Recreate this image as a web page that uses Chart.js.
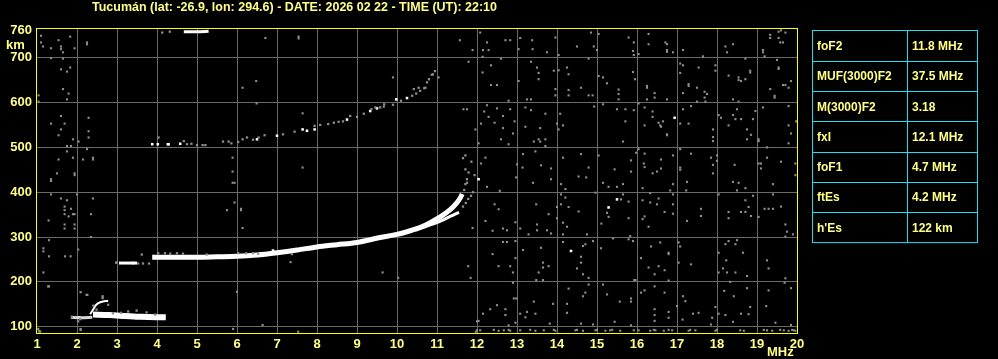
<!DOCTYPE html>
<html>
<head>
<meta charset="utf-8">
<script src="https://cdn.jsdelivr.net/npm/chart.js@4/dist/chart.umd.min.js"></script>
<style>
  html, body { margin: 0; padding: 0; background: #000; }
  #wrap { width: 998px; height: 359px; }
</style>
</head>
<body>
<div id="wrap"><canvas id="ionogram" width="998" height="359"></canvas></div>
<script>
'use strict'

const title = 'Tucumán (lat: -26.9, lon: 294.6) - DATE: 2026 02 22 - TIME (UT): 22:10'
const yTicks = [100, 200, 300, 400, 500, 600, 700, 760]
const xTicks = [1, 2, 3, 4, 5, 6, 7, 8, 9, 10, 11, 12, 13, 14, 15, 16, 17, 18, 19, 20]
const paramNames = ['foF2', 'MUF(3000)F2', 'M(3000)F2', 'fxI', 'foF1', 'ftEs', "h'Es"]
const paramValues = ['11.8 MHz', '37.5 MHz', '3.18', '12.1 MHz', '4.7 MHz', '4.2 MHz', '122 km']

// F layer trace, ordinary (MHz, km)
const fTraceO = [[3.88, 255], [4.5, 255], [5.0, 255], [5.5, 256], [6.0, 257], [6.5, 260], [7.0, 265],
  [7.5, 271], [8.0, 278], [8.5, 283], [9.0, 288], [9.58, 299], [10.0, 306], [10.33, 314], [10.6, 322],
  [10.83, 332], [11.1, 346], [11.33, 361], [11.5, 377], [11.58, 387], [11.63, 396]]
// F layer trace, extraordinary
const fTraceX = [[10.6, 320], [10.83, 327], [11.1, 336], [11.33, 346], [11.55, 355]]
// low F start
const fStart = [[3.05, 242], [3.25, 242], [3.5, 242]]
// sporadic E
const esMain = [[2.4, 127], [2.8, 126], [3.2, 124], [3.6, 122], [4.0, 121], [4.22, 121]]
const esLow = [[1.85, 121], [2.1, 120], [2.38, 121]]
const esHook = [[2.33, 128], [2.4, 138], [2.48, 149], [2.6, 155], [2.78, 158]]
// echo near the top of the frame
const topEcho = [[4.67, 758], [5.0, 758], [5.29, 759]]

// second hop F (white echoes)
const hop2White = [[3.88, 507], [4.02, 507], [4.27, 507], [4.29, 507], [4.58, 508], [6.5, 518], [7.0, 526],
  [7.64, 540], [7.75, 537], [7.94, 540], [8.75, 562], [9.33, 581], [9.5, 587], [9.98, 607], [10.25, 610],
  [15.5, 384], [15.29, 366], [14.35, 269], [16.94, 566], [12.04, 429], [3.4, 242],
  [6.9, 270], [2.05, 121]]
// second hop F (gray echoes)
const hop2Gray = [[4.04, 522], [4.67, 514], [4.75, 507], [4.86, 508], [5.0, 505], [5.14, 505], [5.21, 505],
  [5.65, 513], [5.79, 513], [5.86, 509], [6.03, 512], [6.14, 518], [6.25, 522], [6.4, 517], [6.54, 522],
  [6.69, 527], [7.15, 529], [7.44, 535], [7.94, 548], [8.08, 550], [8.28, 552], [8.42, 555], [8.54, 557],
  [8.65, 558], [8.83, 570], [9.0, 568], [9.17, 575], [9.36, 585], [9.46, 589], [9.58, 589], [9.67, 591],
  [9.68, 596], [9.9, 595], [10.1, 604], [10.38, 615], [10.48, 620], [10.42, 630], [10.54, 633],
  [10.58, 626], [10.68, 632], [10.71, 633], [10.75, 645], [10.8, 652], [10.87, 662], [10.95, 670]]

// F trace edges and Es scatter
const traceGray = [[2.98, 243], [3.53, 241], [3.65, 241], [3.8, 241], [3.62, 261], [4.03, 264], [4.2, 264],
  [4.33, 263], [4.5, 264], [4.65, 263], [5.24, 261], [6.03, 264], [6.23, 264], [6.4, 264], [6.53, 263],
  [7.37, 262], [11.65, 368], [11.72, 376], [11.78, 385], [11.85, 392], [11.9, 400], [11.68, 405],
  [11.71, 418], [11.75, 421], [11.75, 429], [11.94, 438], [11.79, 444], [11.71, 451], [11.86, 468],
  [11.65, 476], [11.71, 482], [1.28, 190], [2.09, 177], [2.24, 171], [2.64, 168], [2.64, 164], [2.78, 149],
  [2.41, 147], [2.49, 138], [3.49, 136], [3.74, 132], [3.28, 134], [1.87, 122], [2.08, 117], [2.03, 112],
  [2.09, 93], [1.03, 95], [1.05, 90], [2.9, 130], [3.1, 131], [3.95, 127], [4.13, 756], [4.32, 758]]

// background noise
const noise = [
  [12.08, 756], [12.25, 734], [12.15, 717], [12.29, 717], [12.71, 739], [12.83, 739], [13.38, 739],
  [13.08, 744], [13.04, 719], [13.39, 719], [13.75, 712], [13.96, 745], [14.04, 706], [14.5, 725],
  [14.85, 756], [14.92, 725], [15.04, 753], [15.0, 717], [15.79, 745], [15.92, 734], [15.9, 715],
  [15.92, 706], [12.14, 702], [12.6, 698],
  [12.35, 683], [12.14, 667], [12.35, 639], [12.5, 639], [12.79, 604], [13.04, 648], [13.35, 691],
  [13.5, 678], [13.54, 666], [13.54, 652], [13.92, 671], [14.04, 672], [14.25, 678], [14.29, 663],
  [13.96, 630], [13.96, 616], [14.29, 628], [14.29, 616], [14.6, 633], [14.79, 616], [14.89, 616],
  [14.79, 698], [15.04, 659], [15.15, 656], [15.25, 643], [15.54, 629], [15.54, 619], [15.54, 607],
  [15.9, 668], [15.95, 652], [13.25, 607], [13.35, 607],
  [12.25, 594], [12.5, 587], [12.18, 580], [12.29, 568], [12.44, 555], [12.65, 570], [12.65, 543],
  [12.83, 585], [12.94, 558], [12.1, 553], [12.9, 531], [12.6, 518], [12.79, 507], [12.04, 509],
  [13.21, 589], [13.35, 583], [13.21, 546], [13.58, 543], [13.71, 575], [13.42, 513], [13.54, 518],
  [13.71, 518], [13.58, 513], [13.71, 503], [14.08, 575], [14.15, 549], [14.04, 540], [14.0, 553],
  [14.93, 591], [15.15, 596], [15.5, 585], [15.71, 585], [15.71, 558], [15.65, 513], [15.92, 583],
  [12.21, 477], [12.1, 464], [13.0, 462], [12.98, 433], [13.15, 485], [13.46, 491], [13.14, 455],
  [13.6, 460], [13.85, 453], [13.4, 421], [14.15, 477], [14.6, 485], [14.79, 455], [14.54, 435],
  [14.73, 433], [14.1, 418], [14.21, 407], [15.04, 482], [15.44, 451], [15.85, 471], [15.85, 446],
  [15.15, 421], [15.29, 412], [15.5, 412], [15.65, 418], [15.98, 488], [12.57, 403], [12.25, 412],
  [13.85, 429],
  [12.44, 373], [12.54, 362], [12.21, 336], [12.39, 314], [12.65, 319], [12.75, 315], [12.96, 333],
  [13.48, 373], [13.08, 319], [13.5, 328], [13.5, 315], [13.75, 315], [13.79, 351], [13.29, 306],
  [13.85, 308], [14.0, 367], [14.1, 373], [14.21, 388], [14.1, 395], [14.29, 367], [14.54, 357],
  [14.15, 332], [14.25, 323], [14.0, 342], [14.15, 306], [14.75, 306], [14.96, 399], [15.11, 330],
  [15.25, 354], [15.29, 345], [15.6, 384], [15.65, 395], [15.79, 379], [15.79, 342], [15.83, 302],
  [12.65, 289], [12.75, 289], [12.96, 291], [12.39, 262], [12.54, 235], [12.83, 235], [12.96, 253],
  [12.9, 221], [13.15, 271], [13.6, 276], [13.65, 243], [13.65, 232], [13.79, 235], [13.54, 221],
  [13.48, 204], [13.65, 204], [14.15, 289], [14.6, 256], [14.65, 280], [14.71, 284], [14.6, 243],
  [14.5, 230], [14.65, 217], [14.9, 291], [14.79, 209], [15.1, 275], [15.4, 297], [15.79, 295],
  [15.9, 291], [15.96, 204],
  [12.9, 198], [12.92, 163], [12.98, 163], [12.5, 148], [12.33, 139], [12.15, 129], [12.71, 139],
  [12.71, 126], [12.96, 109], [12.79, 103], [12.04, 113], [13.08, 129], [13.25, 133], [13.21, 121],
  [13.42, 156], [13.46, 129], [13.9, 151], [13.82, 107], [14.25, 151], [14.25, 131], [14.29, 185],
  [14.65, 168], [14.71, 176], [14.79, 194], [14.6, 107], [14.9, 105], [15.15, 194], [15.25, 172],
  [15.57, 156], [15.85, 163], [15.85, 156], [15.44, 111], [15.85, 103], [15.93, 204],
  [12.08, 92], [12.42, 93], [12.54, 91], [12.67, 92], [12.79, 93], [12.83, 91], [13.08, 92], [13.33, 93],
  [13.46, 91], [13.67, 92], [13.92, 93], [13.96, 91], [14.46, 92], [14.5, 93], [14.65, 91], [14.96, 92],
  [15.0, 93], [15.21, 91], [15.33, 92], [15.38, 93], [15.58, 91], [15.92, 92],
  [16.29, 753], [16.29, 730], [16.71, 734], [16.75, 730], [16.75, 717], [16.75, 713], [16.9, 712],
  [17.15, 717], [17.65, 703], [18.21, 725], [18.4, 730], [18.25, 712], [19.33, 751], [19.33, 744],
  [19.54, 758], [19.6, 761], [19.71, 756], [19.54, 744], [19.58, 734], [19.65, 734], [19.15, 717],
  [19.15, 712], [19.19, 703], [16.04, 708],
  [17.08, 687], [17.15, 683], [17.54, 678], [17.96, 683], [17.96, 671], [17.08, 666], [17.29, 641],
  [17.29, 637], [17.5, 633], [17.15, 621], [17.69, 624], [17.75, 619], [17.69, 611], [17.71, 602],
  [17.5, 602], [18.29, 660], [18.54, 656], [18.54, 650], [18.6, 648], [18.71, 652], [18.83, 667],
  [18.83, 671], [18.4, 607], [18.54, 602], [18.71, 698], [19.5, 695], [19.54, 678], [19.54, 675],
  [19.85, 648], [19.79, 633], [19.65, 639], [19.71, 639], [19.33, 630], [19.44, 615], [19.44, 611],
  [16.25, 637], [16.25, 633], [16.44, 621], [16.44, 611], [16.25, 607], [16.75, 607],
  [16.04, 598], [16.19, 589], [16.39, 580], [16.39, 568], [16.19, 549], [16.54, 555], [16.6, 546],
  [16.65, 558], [16.58, 549], [16.75, 529], [16.75, 527], [17.15, 585], [17.08, 553], [17.29, 553],
  [17.35, 592], [17.9, 540], [17.9, 523], [17.9, 514], [18.04, 572], [18.1, 566], [18.29, 549],
  [18.4, 572], [18.5, 585], [18.46, 563], [18.6, 563], [18.75, 540], [18.85, 528], [18.75, 518],
  [18.96, 581], [18.9, 563], [19.04, 518], [19.04, 514], [19.15, 589], [19.79, 592], [19.79, 549],
  [19.85, 531], [19.79, 509], [19.98, 558],
  [16.04, 496], [16.19, 486], [16.6, 473], [16.9, 482], [16.17, 464], [16.19, 456], [16.39, 442],
  [16.5, 446], [16.6, 453], [16.14, 409], [16.9, 418], [16.83, 404], [17.08, 496], [17.35, 486],
  [17.08, 455], [17.08, 450], [17.25, 423], [17.23, 404], [17.85, 477], [17.9, 461], [18.0, 482],
  [17.9, 442], [18.0, 470], [18.44, 461], [18.4, 423], [18.54, 421], [18.71, 409], [18.5, 404],
  [19.25, 500], [19.25, 477], [19.1, 464], [19.1, 453], [19.04, 464], [19.6, 468], [19.4, 418],
  [19.96, 464], [19.96, 438],
  [16.33, 398], [16.14, 382], [16.33, 377], [16.54, 386], [16.5, 373], [16.9, 395], [16.9, 373],
  [16.9, 352], [16.69, 356], [16.19, 346], [16.14, 340], [16.29, 323], [17.25, 336], [17.6, 363],
  [17.6, 347], [18.04, 395], [18.29, 356], [18.29, 342], [18.6, 356], [18.71, 356], [18.71, 382],
  [18.79, 367], [18.85, 347], [18.9, 392], [19.04, 345], [19.4, 395], [19.19, 363], [19.29, 363],
  [19.4, 363], [19.6, 368], [19.71, 328], [19.75, 312], [19.71, 301], [19.9, 306],
  [16.58, 288], [16.35, 279], [16.79, 265], [16.79, 262], [16.1, 253], [16.29, 232], [16.54, 235],
  [16.44, 217], [16.69, 226], [16.79, 203], [17.04, 288], [17.08, 279], [17.04, 243], [17.35, 239],
  [18.04, 265], [18.21, 284], [18.29, 291], [18.46, 284], [18.5, 293], [18.65, 265], [18.23, 248],
  [18.15, 230], [18.04, 221], [18.25, 221], [18.46, 221], [18.75, 213], [19.25, 248], [19.29, 230],
  [19.71, 208], [19.69, 198],
  [16.1, 176], [16.19, 181], [16.44, 190], [16.69, 176], [16.44, 139], [16.44, 126], [16.44, 113],
  [16.79, 133], [16.79, 120], [17.0, 146], [17.15, 168], [17.21, 157], [17.14, 116], [17.4, 129],
  [17.54, 131], [17.88, 120], [17.96, 144], [17.85, 105], [18.04, 129], [18.21, 126], [18.18, 180],
  [18.42, 168], [18.4, 111], [18.6, 129], [18.75, 186], [18.83, 144], [18.79, 128], [19.29, 181],
  [19.23, 146], [19.85, 186], [19.46, 109], [19.85, 104], [18.33, 200],
  [16.04, 92], [16.33, 91], [16.42, 93], [16.46, 92], [16.67, 91], [16.79, 93], [16.88, 92], [17.29, 91],
  [17.33, 93], [17.46, 92], [17.96, 91], [18.0, 93], [18.58, 92], [18.67, 91], [19.17, 93], [19.25, 92],
  [19.38, 91], [19.58, 93], [19.67, 92], [19.79, 91], [19.88, 93], [19.92, 92], [19.96, 91],
  [1.1, 749], [1.1, 734], [1.15, 725], [1.35, 721], [1.54, 739], [1.6, 725], [1.6, 719], [1.65, 712],
  [1.83, 747], [1.94, 721], [1.35, 699], [1.65, 698], [2.25, 734], [2.25, 730], [1.6, 674], [1.75, 669],
  [1.83, 678], [1.65, 630], [1.79, 620], [1.75, 607], [1.04, 616], [1.04, 602],
  [6.71, 744], [7.54, 747], [7.54, 743], [11.57, 739], [11.89, 717], [11.79, 691], [10.9, 663],
  [11.04, 656], [9.9, 656], [6.48, 648], [6.14, 633], [6.49, 598], [11.66, 585], [11.75, 585],
  [11.96, 540], [1.35, 553], [1.6, 570], [1.69, 553], [1.6, 540], [1.54, 527], [1.9, 518], [1.75, 503],
  [1.85, 503], [1.75, 491], [2.04, 513], [2.29, 566], [2.29, 536], [2.29, 522], [2.25, 496], [1.54, 473],
  [1.9, 477], [2.15, 473], [2.4, 477], [2.4, 473], [1.5, 442], [1.94, 442], [1.94, 438], [1.35, 429],
  [1.35, 425], [1.35, 395], [1.6, 386], [1.75, 382], [2.0, 395], [2.4, 386], [1.69, 368], [1.69, 360],
  [1.85, 363], [1.69, 351], [1.9, 351], [1.94, 351], [1.79, 346], [1.29, 337], [1.69, 328], [1.69, 319],
  [1.94, 328], [1.94, 319], [2.35, 351], [7.64, 576], [7.64, 455], [5.89, 477], [5.89, 446], [5.89, 421],
  [5.94, 421], [5.94, 377], [5.75, 360], [6.1, 363], [6.1, 360], [6.14, 320], [11.89, 320],
  [1.3, 293], [1.16, 275], [1.16, 268], [1.3, 257], [1.16, 221], [1.3, 190], [1.84, 257], [1.7, 257],
  [2.03, 272], [2.26, 171], [2.99, 243], [1.06, 90], [2.35, 300], [7.34, 244], [9.64, 221], [10.03, 209],
  [11.78, 235], [11.84, 209], [6.0, 178], [5.9, 95], [6.64, 104], [7.53, 89], [12.0, 112], [11.97, 89],
  [12.0, 92], [1.08, 89], [2.09, 95]
]

const toXY = (arr) => arr.map((p) => ({ x: p[0], y: p[1] }))

const YELLOW = '#ffff00'
const TEXT = '#ffff88'
const CYAN = '#20e0f0'
const GRID = '#6a6a6a'
const GRAY = '#8e8e8e'

const lineDs = (arr, width, color) => ({
  type: 'line',
  data: toXY(arr),
  showLine: true,
  borderColor: color,
  borderWidth: width,
  pointRadius: 0,
  tension: 0.3,
  fill: false,
  borderCapStyle: 'butt'
})

const pointDs = (arr, color, r) => ({
  type: 'scatter',
  data: toXY(arr),
  pointStyle: 'rect',
  pointRadius: r,
  pointBorderWidth: 0,
  backgroundColor: color,
  borderColor: color
})

// draws background, border, title, labels and the parameter table
const decor = {
  id: 'decor',
  beforeDraw (chart) {
    const c = chart.ctx
    c.save()
    c.fillStyle = '#000'
    c.fillRect(0, 0, chart.width, chart.height)
    c.restore()
  },
  afterDraw (chart) {
    const c = chart.ctx
    const a = chart.chartArea
    c.save()
    c.strokeStyle = YELLOW
    c.lineWidth = 1
    c.strokeRect(Math.round(a.left) - 0.5, Math.round(a.top) - 0.5, Math.round(a.right - a.left) + 1, Math.round(a.bottom - a.top) + 1)

    c.fillStyle = TEXT
    c.font = 'bold 13px "Liberation Sans", Arial, sans-serif'
    c.textBaseline = 'middle'
    c.textAlign = 'left'
    c.fillText(title, 92, 7, 405)

    c.fillText('km', 6, 45)
    c.fillText('MHz', 767, 352)

    // parameter table
    const tx = 812
    const tw = 165
    const colX = 907
    const rowH = 30.3
    const ty = 30.5
    c.strokeStyle = CYAN
    c.lineWidth = 1
    c.strokeRect(tx + 0.5, ty, tw, rowH * paramNames.length)
    c.beginPath()
    c.moveTo(colX + 0.5, ty)
    c.lineTo(colX + 0.5, ty + rowH * paramNames.length)
    for (let i = 1; i < paramNames.length; i++) {
      const yy = Math.round(ty + rowH * i) + 0.5
      c.moveTo(tx, yy)
      c.lineTo(tx + tw, yy)
    }
    c.stroke()
    c.font = 'bold 12px "Liberation Sans", Arial, sans-serif'
    c.fillStyle = TEXT
    paramNames.forEach((n, i) => {
      const yy = ty + rowH * i + rowH / 2 + 1
      c.fillText(n, 817, yy)
      c.fillText(paramValues[i], 912, yy)
    })
    c.restore()
  }
}

const ctx = document.getElementById('ionogram').getContext('2d')
const chart = new Chart(ctx, {
  type: 'scatter',
  data: {
    datasets: [
      pointDs(noise, GRAY, 1.5),
      pointDs(hop2Gray, GRAY, 1.6),
      pointDs(traceGray, GRAY, 1.6),
      lineDs(esLow, 3, '#d8d8d8'),
      lineDs(esHook, 2, '#ffffff'),
      lineDs(esMain, 6, '#ffffff'),
      lineDs(fStart, 3, '#ffffff'),
      lineDs(fTraceO, 5, '#ffffff'),
      lineDs(fTraceX, 3, '#ffffff'),
      lineDs(topEcho, 3, '#ffffff'),
      pointDs(hop2White, '#ffffff', 1.8)
    ]
  },
  options: {
    responsive: false,
    animation: false,
    devicePixelRatio: 1,
    layout: { padding: { left: 0, top: 29, right: 201, bottom: 0 } },
    plugins: {
      legend: { display: false },
      tooltip: { enabled: false }
    },
    scales: {
      x: {
        type: 'linear',
        min: 1,
        max: 20,
        afterFit (scale) { scale.height = 26 },
        afterBuildTicks (scale) { scale.ticks = xTicks.map((v) => ({ value: v })) },
        border: { display: false },
        grid: {
          drawTicks: false,
          lineWidth: 1,
          color: (c) => (c.tick && (c.tick.value === 1 || c.tick.value === 20)) ? 'rgba(0,0,0,0)' : GRID
        },
        ticks: {
          color: TEXT,
          padding: 4,
          autoSkip: false,
          maxRotation: 0,
          font: { family: 'Liberation Sans', size: 13, weight: 'bold' }
        }
      },
      y: {
        type: 'linear',
        min: 86,
        max: 764,
        afterFit (scale) { scale.width = 37 },
        afterBuildTicks (scale) { scale.ticks = yTicks.map((v) => ({ value: v })) },
        border: { display: false },
        grid: {
          drawTicks: false,
          lineWidth: 1,
          color: (c) => (c.tick && c.tick.value === 760) ? 'rgba(0,0,0,0)' : GRID
        },
        ticks: {
          color: TEXT,
          padding: 5,
          font: { family: 'Liberation Sans', size: 13, weight: 'bold' }
        }
      }
    }
  },
  plugins: [decor]
})
</script>
</body>
</html>
